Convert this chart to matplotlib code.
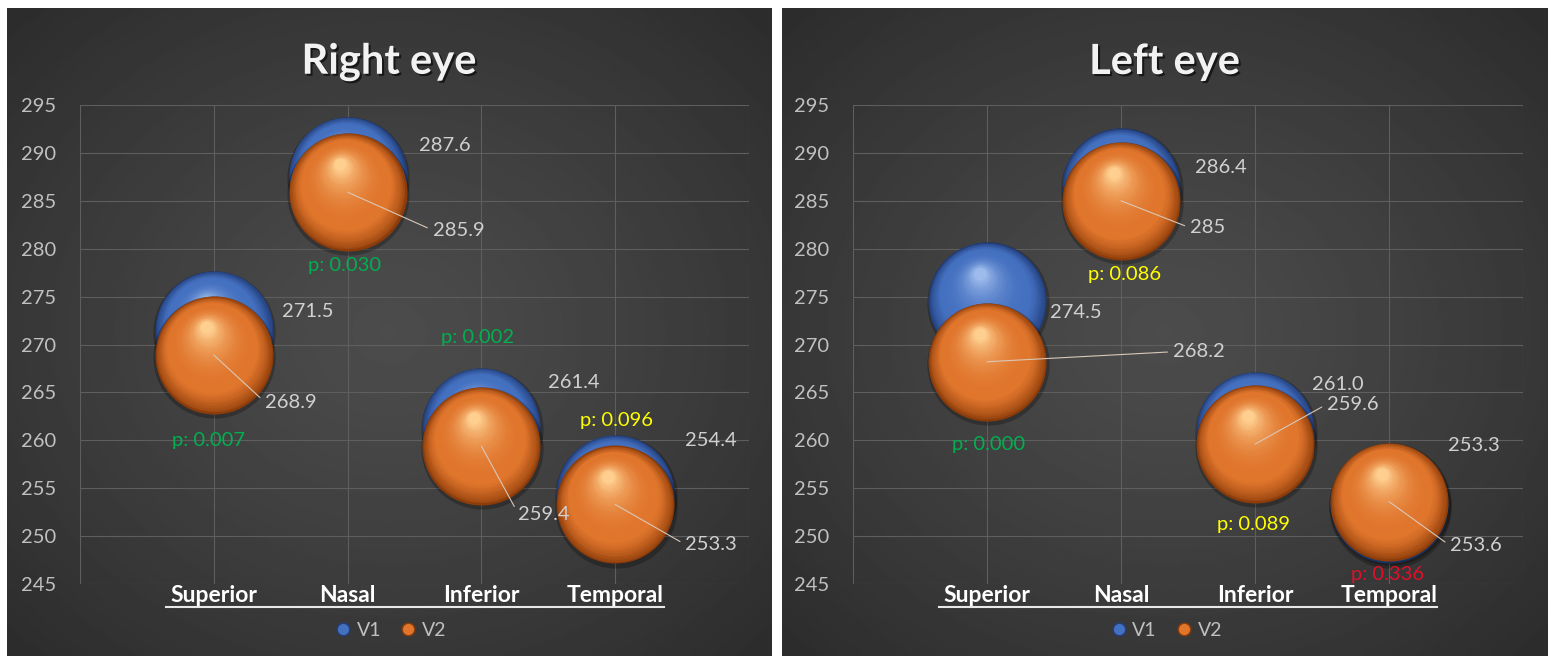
import numpy as np
import matplotlib.pyplot as plt
import matplotlib.patheffects as pe
from matplotlib.transforms import offset_copy
from matplotlib.lines import Line2D

plt.rcParams['font.family'] = ['Lato', 'DejaVu Sans']

# data
categories = ['Superior', 'Nasal', 'Inferior', 'Temporal']
titles = ['Right eye', 'Left eye']
right_v1 = [271.5, 287.6, 261.4, 254.4]
right_v2 = [268.9, 285.9, 259.4, 253.3]
left_v1 = [274.5, 286.4, 261.0, 253.3]
left_v2 = [268.2, 285.0, 259.6, 253.6]
right_v1_txt = ['271.5', '287.6', '261.4', '254.4']
right_v2_txt = ['268.9', '285.9', '259.4', '253.3']
left_v1_txt = ['274.5', '286.4', '261.0', '253.3']
left_v2_txt = ['268.2', '285', '259.6', '253.6']
right_p = ['p: 0.007', 'p: 0.030', 'p: 0.002', 'p: 0.096']
left_p = ['p: 0.000', 'p: 0.086', 'p: 0.089', 'p: 0.336']
right_p_col = ['#00b050', '#00b050', '#00b050', '#ffff00']
left_p_col = ['#00b050', '#ffff00', '#ffff00', '#e0102a']

# layout (pixels)
W, H = 1553, 657
panel_px = [(7, 8, 771, 656), (782, 8, 1547, 656)]
axes_px = [(80, 105, 749, 584), (853, 105, 1523, 584)]
v1_off = [[(68, 19), (71, 30), (67, 44), (70, 53)],
          [(63, -11), (74, 20), (57, 46), (59, 59)]]
v2_off = [[(51, -47), (85, -38), (37, -68), (70, -40)],
          [(186, 10), (69, -27), (72, 40), (61, -44)]]
p_pos = [[(0.96, 260.0), (1.98, 278.2), (2.97, 270.7), (4.01, 262.1)],
         [(1.01, 259.6), (2.03, 277.3), (2.99, 251.2), (3.99, 246.0)]]

BLUE = dict(dark='#223f7c', base='#4470c0', light='#9dbbec')
ORANGE = dict(dark='#8c3c0a', base='#e0752c', light='#ffcf90')


def frac(x0, y0, x1, y1):
    return [x0 / W, 1 - y1 / H, (x1 - x0) / W, (y1 - y0) / H]


def mix(c1, c2, t):
    a = np.array(plt.matplotlib.colors.to_rgb(c1))
    b = np.array(plt.matplotlib.colors.to_rgb(c2))
    return tuple(a + (b - a) * t)


def spheres(ax, xs, ys, pal, z, diam=85):
    fig = ax.figure
    sh = offset_copy(ax.transData, fig=fig, x=0.5, y=-1.5, units='points')
    ax.scatter(xs, ys, s=(diam + 3) ** 2, color='black', alpha=0.25,
               linewidths=0, transform=sh, zorder=z - 0.01)
    n = 40
    for k in range(n):
        t = k / (n - 1)
        d = diam * (1 - 0.9 * t)
        shift = (diam - d) / 2 * 0.55
        tr = offset_copy(ax.transData, fig=fig, x=-0.25 * shift,
                         y=0.95 * shift, units='points')
        if t < 0.25:
            col = mix(pal['dark'], pal['base'], (t / 0.25) ** 0.7)
        else:
            col = mix(pal['base'], pal['light'], ((t - 0.25) / 0.75) ** 2.5)
        ax.scatter(xs, ys, s=d ** 2, color=col, linewidths=0,
                   transform=tr, zorder=z + k * 0.001)


fig = plt.figure(figsize=(W / 100, H / 100), dpi=100)
fig.patch.set_facecolor('white')

# radial background
gy, gx = np.mgrid[-1:1:300j, -1:1:300j]
rr = np.sqrt(gx ** 2 + gy ** 2) / np.sqrt(2)
bg = (76 - 32 * rr ** 1.2) / 255.0

x = np.arange(1, 5)
panels = [(right_v1, right_v2, right_v1_txt, right_v2_txt, right_p, right_p_col),
          (left_v1, left_v2, left_v1_txt, left_v2_txt, left_p, left_p_col)]

for i, (v1, v2, t1, t2, pt, pc) in enumerate(panels):
    bax = fig.add_axes(frac(*panel_px[i]))
    bax.imshow(bg, cmap='gray', vmin=0, vmax=1, aspect='auto',
               extent=[0, 1, 0, 1])
    bax.axis('off')

    ax = fig.add_axes(frac(*axes_px[i]))
    ax.set_facecolor('none')
    ax.set_xlim(0, 5)
    ax.set_ylim(245, 295)
    ax.set_xticks(range(6))
    ax.set_xticklabels([''] + categories + [''], fontsize=16.5,
                       fontweight='bold', color='white')
    ax.set_yticks(np.arange(245, 296, 5))
    ax.tick_params(axis='y', length=0, pad=17, labelsize=14.5,
                   labelcolor='#c0c0c0')
    ax.tick_params(axis='x', length=0, pad=1)
    ax.grid(True, color='#5e5e5e', lw=0.8)
    ax.set_axisbelow(True)
    for s in ax.spines.values():
        s.set_visible(False)

    spheres(ax, x, v1, BLUE, 3)
    spheres(ax, x, v2, ORANGE, 4)

    for j in range(4):
        ox, oy = v1_off[i][j]
        ax.annotate(t1[j], (x[j], v1[j]), xytext=(ox * 0.72, oy * 0.72),
                    textcoords='offset points', ha='left', va='center',
                    fontsize=14.5, color='#d0d0d0', zorder=10)
        ox, oy = v2_off[i][j]
        ax.annotate(t2[j], (x[j], v2[j]), xytext=(ox * 0.72, oy * 0.72),
                    textcoords='offset points', ha='left', va='center',
                    fontsize=14.5, color='#d0d0d0', zorder=10,
                    arrowprops=dict(arrowstyle='-', color='#d8c8b8', lw=0.8,
                                    shrinkA=2, shrinkB=0, relpos=(0, 0.5)))
        px, py = p_pos[i][j]
        ax.text(px, py, pt[j], ha='center', va='center', fontsize=14.5,
                color=pc[j], zorder=10)

    cx = (panel_px[i][0] + panel_px[i][2]) / 2 / W
    fig.text(cx, 1 - 62 / H, titles[i], ha='center', va='center',
             fontsize=30, fontweight='bold', color='#f2f2f2',
             path_effects=[pe.withSimplePatchShadow(offset=(1.5, -1.5),
                                                    shadow_rgbFace='black',
                                                    alpha=0.6)])

    handles = [Line2D([], [], ls='none', marker='o', ms=9,
                      mfc=BLUE['base'], mec=BLUE['dark'], label='V1'),
               Line2D([], [], ls='none', marker='o', ms=9,
                      mfc=ORANGE['base'], mec=ORANGE['dark'], label='V2')]
    leg = fig.legend(handles=handles, loc='center', ncol=2, frameon=False,
                     bbox_to_anchor=(cx, 1 - 630 / H), fontsize=14,
                     handletextpad=0.1, columnspacing=0.8, handlelength=1.2)
    for t in leg.get_texts():
        t.set_color('#c0c0c0')

    # underline under the category labels
    fig.canvas.draw()
    r = fig.canvas.get_renderer()
    labs = ax.get_xticklabels()
    b1 = labs[1].get_window_extent(r)
    b4 = labs[4].get_window_extent(r)
    yl = min(b1.y0, b4.y0) - 1
    fig.add_artist(Line2D([b1.x0 / W - 0.003, b4.x1 / W], [yl / H, yl / H],
                          color='#e8e8e8', lw=1.5, transform=fig.transFigure))

fig.savefig('out.png', dpi=100, facecolor='white')
